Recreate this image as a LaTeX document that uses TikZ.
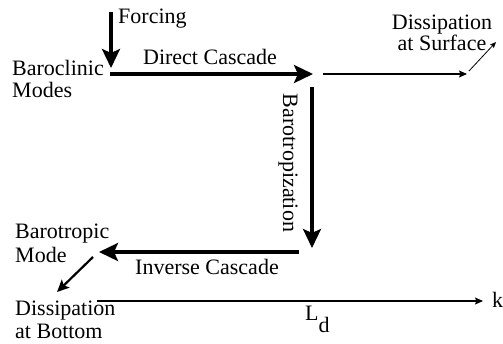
\documentclass[tikz,border=0pt]{standalone}
\usepackage{fontspec}
\setmainfont{Liberation Serif}
\usetikzlibrary{arrows.meta}
\tikzset{
  lbl/.style={inner sep=0pt, font=\fontsize{22}{24}\selectfont},
  thickarrow/.style={line width=3.6pt, -{Stealth[length=19pt,width=18pt,inset=4pt]}},
  medarrow/.style={line width=2.2pt, -{Stealth[length=12pt,width=11pt,inset=2.5pt]}},
  thinarrow/.style={line width=1.2pt, -{Stealth[length=8pt,width=7pt,inset=1.5pt]}},
  finearrow/.style={line width=0.8pt, -{Stealth[length=6pt,width=5pt,inset=1pt]}},
}
\begin{document}
\begin{tikzpicture}[x=1pt,y=-1pt]
\useasboundingbox (0,0) rectangle (503,343);
% texts
\node[lbl, anchor=base west] (forcing) at (118,23) {Forcing};
\node[lbl, anchor=base west] (baroclinicA) at (12,75) {Baroclinic};
\node[lbl, anchor=base west] (baroclinicB) at (12,97) {Modes};
\node[lbl, anchor=base] (direct) at (210,64) {Direct Cascade};
\node[lbl, anchor=north, align=center, font=\fontsize{22}{19}\selectfont] (surf) at (442,14.5) {Dissipation\\at Surface};
\node[lbl, anchor=base, rotate=-90] (barotropization) at (283,163) {Barotropization};
\node[lbl, anchor=base west] (barotropicA) at (15,238) {Barotropic};
\node[lbl, anchor=base west] (barotropicB) at (15,262) {Mode};
\node[lbl, anchor=base] (inverse) at (207,274) {Inverse Cascade};
\node[lbl, anchor=base west] (bottomA) at (15,315) {Dissipation};
\node[lbl, anchor=base west] (bottomB) at (15,338) {at Bottom};
\node[lbl, anchor=base west] (k) at (492,307) {k};
\node[lbl, anchor=base west] (ld) at (305,320) {L\raisebox{-12pt}{d}};
% arrow end points
\coordinate (fTop) at (111,12);
\coordinate (fEnd) at (111,68);
\coordinate (dStart) at (110,74);
\coordinate (dEnd) at (313,74);
\coordinate (tStart) at (323,74);
\coordinate (tEnd) at (467,74);
\coordinate (sStart) at (469,71);
\coordinate (sEnd) at (496,42);
\coordinate (bStart) at (312,87);
\coordinate (bEnd) at (312,248);
\coordinate (iStart) at (299,252);
\coordinate (iEnd) at (99,252);
\coordinate (gStart) at (93,257);
\coordinate (gEnd) at (57,292);
\coordinate (aStart) at (97,301);
\coordinate (aEnd) at (483,301);
% arrows
\draw[thickarrow] (fTop) -- (fEnd);
\draw[thickarrow] (dStart) -- (dEnd);
\draw[thinarrow] (tStart) -- (tEnd);
\draw[finearrow] (sStart) -- (sEnd);
\draw[thickarrow] (bStart) -- (bEnd);
\draw[thickarrow] (iStart) -- (iEnd);
\draw[medarrow] (gStart) -- (gEnd);
\draw[thinarrow] (aStart) -- (aEnd);
\end{tikzpicture}
\end{document}
